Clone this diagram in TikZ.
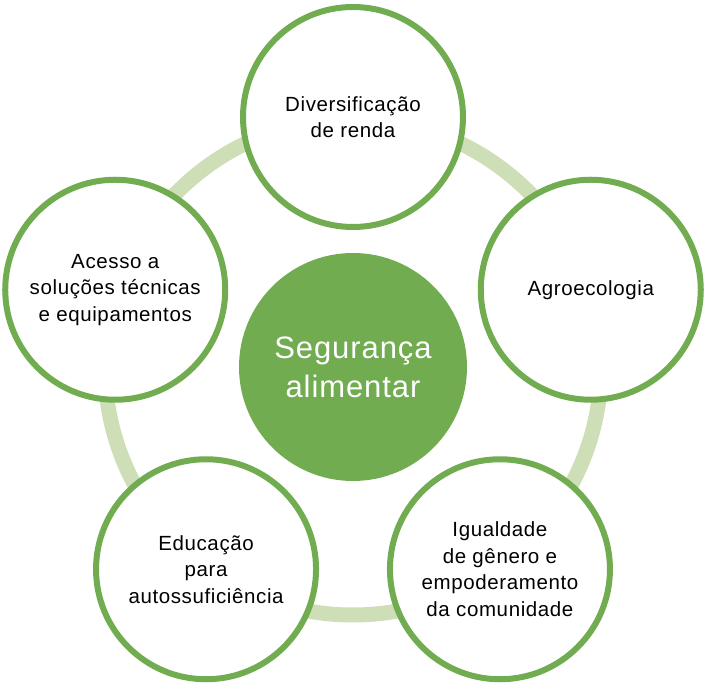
\documentclass[tikz,border=0pt]{standalone}
\usepackage{fontspec}
\setmainfont{Liberation Sans}[LetterSpace=3]
\usepackage{tikz}
\usetikzlibrary{positioning}

\definecolor{verde}{RGB}{113,172,81}
\definecolor{verdeclaro}{RGB}{206,223,184}

\begin{document}
\begin{tikzpicture}[x=1pt, y=1pt,
    tema/.style={circle, draw=verde, line width=6pt, fill=white, minimum size=220pt,
                 align=center, font=\fontsize{20.5}{26.5}\selectfont, inner sep=0pt},
    nucleo/.style={circle, fill=verde, minimum size=228pt, align=center,
                   text=white, font=\fontsize{31}{39}\selectfont, inner sep=0pt}]
    \useasboundingbox (-353,-317) rectangle (353,367);

    % anel de fundo
    \coordinate (c) at (0,0);
    \draw[verdeclaro, line width=15pt] (c) circle (248);

    \node[nucleo] (seg) at (c) {Segurança\\alimentar};

    \node[tema] (renda) at (90:250) {Diversificação\\de renda};
    \node[tema] (agro) at (18:250) {Agroecologia};
    \node[tema] (igual) at (-54:250) {Igualdade\\de gênero e\\empoderamento\\da comunidade};
    \node[tema] (educ) at (-126:250) {Educação\\para\\autossuficiência};
    \node[tema] (acesso) at (162:250) {Acesso a\\soluções técnicas\\e equipamentos};
\end{tikzpicture}
\end{document}
